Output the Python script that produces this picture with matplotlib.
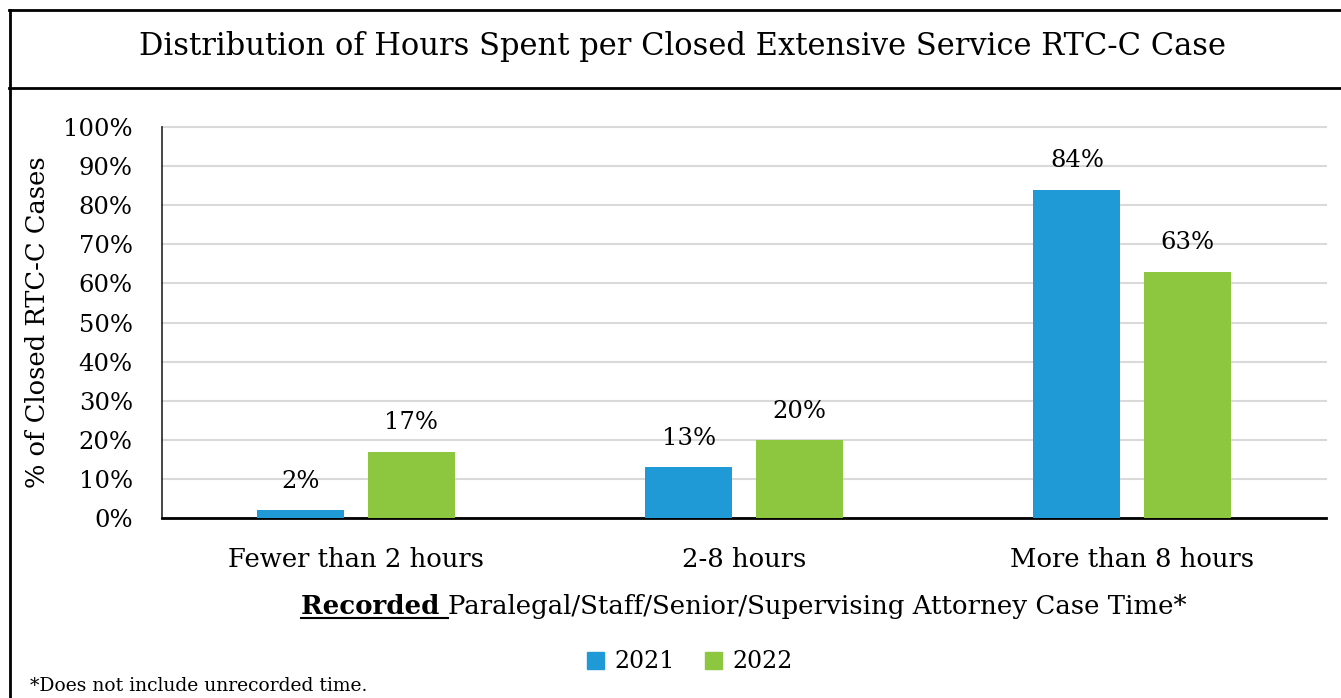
import matplotlib
matplotlib.use("Agg")
import matplotlib.pyplot as plt
import numpy as np
from matplotlib.lines import Line2D
from matplotlib.patches import Patch

categories = ["Fewer than 2 hours", "2-8 hours", "More than 8 hours"]
years = ["2021", "2022"]
values_2021 = [2, 13, 84]
values_2022 = [17, 20, 63]
yticks = [0, 10, 20, 30, 40, 50, 60, 70, 80, 90, 100]

BLUE = "#1F9AD6"
GREEN = "#8DC63F"

plt.rcParams["font.family"] = ["DejaVu Serif"]

W, H = 1341, 698
fig = plt.figure(figsize=(W / 100, H / 100), dpi=100)

def fx(px):
    return px / W

def fy(py):
    return 1 - py / H

# axes placed in pixel coordinates of the reference
ax = fig.add_axes([fx(162), fy(518), fx(1326) - fx(162), fy(127) - fy(518)])

x = np.arange(len(categories))
bw = 0.224
off = 0.142
b1 = ax.bar(x - off, values_2021, bw, color=BLUE, zorder=3)
b2 = ax.bar(x + off, values_2022, bw, color=GREEN, zorder=3)

for bars, vals in ((b1, values_2021), (b2, values_2022)):
    for r, v in zip(bars, vals):
        ax.text(r.get_x() + r.get_width() / 2, v + 4.4, f"{v}%",
                ha="center", va="bottom", fontsize=17.5)

ax.set_xlim(-0.5, 2.5)
ax.set_ylim(0, 100)
ax.set_yticks(yticks)
ax.set_yticklabels([f"{t}%" for t in yticks], fontsize=17.5)
ax.set_xticks(x)
ax.set_xticklabels(categories, fontsize=18.6)
ax.tick_params(axis="y", length=0, pad=21)
ax.tick_params(axis="x", length=0, pad=21)
ax.yaxis.grid(True, color="#D9D9D9", linewidth=1.5, zorder=0)
for gl in ax.yaxis.get_gridlines():
    gl.set_clip_on(False)
ax.set_axisbelow(True)
for s in ("top", "right"):
    ax.spines[s].set_visible(False)
ax.spines["left"].set_color("#262626")
ax.spines["left"].set_linewidth(1.2)
ax.spines["bottom"].set_color("black")
ax.spines["bottom"].set_linewidth(2.0)

ax.set_ylabel("% of Closed RTC-C Cases", fontsize=18.5)
ax.yaxis.set_label_coords(fx(50 - 162) / (fx(1326) - fx(162)), 0.5)

# title box
fig.add_artist(Line2D([fx(9), 1], [fy(10), fy(10)], color="black", lw=2))
fig.add_artist(Line2D([fx(9), 1], [fy(88), fy(88)], color="black", lw=2))
fig.add_artist(Line2D([fx(10), fx(10)], [fy(10), 0], color="black", lw=2))
fig.text(fx(683), fy(46), "Distribution of Hours Spent per Closed Extensive Service RTC-C Case",
         ha="center", va="center", fontsize=22)

# x axis title with bold underlined first word
fig.canvas.draw()
r = fig.canvas.get_renderer()
part1 = "Recorded "
part2 = "Paralegal/Staff/Senior/Supervising Attorney Case Time*"
t1 = fig.text(0, 0, part1, fontsize=18.75, fontweight="bold")
t2 = fig.text(0, 0, part2, fontsize=18.75)
w1 = t1.get_window_extent(r).width
w2 = t2.get_window_extent(r).width
x0 = 744 - (w1 + w2) / 2
ybase = fy(614)
t1.set_position((fx(x0), ybase))
t2.set_position((fx(x0 + w1), ybase))
fig.add_artist(Line2D([fx(x0), fx(x0 + w1)], [fy(618), fy(618)], color="black", lw=1.5))

handles = [Patch(color=BLUE), Patch(color=GREEN)]
fig.legend(handles, years, loc="center", bbox_to_anchor=(fx(690), fy(662)), ncol=2,
           frameon=False, fontsize=17.0, handlelength=0.7, handleheight=0.7,
           handletextpad=0.45, columnspacing=1.3)

fig.text(fx(30), fy(686), "*Does not include unrecorded time.", ha="left", va="center", fontsize=13.5)

fig.savefig("out.png", dpi=100)
